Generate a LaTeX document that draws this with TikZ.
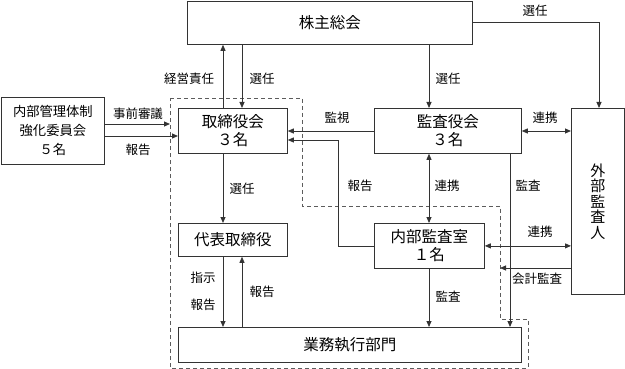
\documentclass[tikz,border=0pt]{standalone}
\usepackage{fontspec}
\setmainfont{Noto Sans CJK JP}
\usetikzlibrary{arrows.meta}
\definecolor{ln}{HTML}{333333}
\tikzset{
  box/.style={draw=ln, line width=0.8pt, inner sep=0pt, anchor=north west, align=center, font=\fontsize{15.5}{18}\selectfont},
  lab/.style={font=\fontsize{12.5}{14}\selectfont, inner sep=0pt},
  arr/.style={draw=ln, line width=0.8pt, -{Triangle[length=6pt,width=5pt]}},
  darr/.style={draw=ln, line width=0.8pt, {Triangle[length=6pt,width=5pt]}-{Triangle[length=6pt,width=5pt]}},
  dash box/.style={draw=ln!80, line width=0.8pt, dash pattern=on 4pt off 3pt}
}
\begin{document}
\begin{tikzpicture}[x=1pt,y=-1pt]
\useasboundingbox (0,0) rectangle (625,369);
% dashed outline
\draw[dash box] (170,98) -- (302,98) -- (302,206) -- (500,206) -- (500,319) -- (528,319) -- (528,368) -- (170,368) -- cycle;
% boxes
\node[box, minimum width=285pt, minimum height=43pt] (kab) at (187,1) {株主総会};
\node[box, minimum width=103pt, minimum height=67pt, font=\fontsize{13.3}{19}\selectfont] (iin) at (1,97) {内部管理体制\\強化委員会\\５名};
\node[box, minimum width=109pt, minimum height=45pt] (tor) at (178,108) {取締役会\\３名};
\node[box, minimum width=147pt, minimum height=45pt] (kan) at (374,108) {監査役会\\３名};
\node[box, minimum width=53pt, minimum height=186pt, font=\fontsize{15}{15.5}\selectfont] (gai) at (571,108) {外\\部\\監\\査\\人};
\node[box, minimum width=109pt, minimum height=33pt] (dai) at (178,223) {代表取締役};
\node[box, minimum width=110pt, minimum height=45pt] (nai) at (374,223) {内部監査室\\１名};
\node[box, minimum width=343pt, minimum height=35pt] (gyo) at (178,327) {業務執行部門};
% helper coordinates
\coordinate (xA) at (223,0);
\coordinate (xB) at (242,0);
\coordinate (xC) at (429,0);
\coordinate (xD) at (599,0);
\coordinate (xE) at (510,0);
\coordinate (xF) at (338,0);
\coordinate (y22) at (0,22);
\coordinate (y124) at (0,124);
\coordinate (y136) at (0,136);
\coordinate (y131) at (0,131);
\coordinate (y140) at (0,140);
\coordinate (y268) at (0,268);
\coordinate (dl) at (170,124);
\coordinate (dr) at (500,268);
% connectors
\draw[arr] (tor.north -| xA) -- (kab.south -| xA);
\node[lab] (l1) at (189,79) {経営責任};
\draw[arr] (kab.south -| xB) -- (tor.north -| xB);
\node[lab] (l2) at (262,79) {選任};
\draw[arr] (kab.south -| xC) -- (kan.north -| xC);
\node[lab] (l3) at (448,79) {選任};
\draw[arr] (kab.east |- y22) -| (gai.north -| xD);
\node[lab] (l4) at (535,11) {選任};
\draw[arr] (iin.east |- y124) -- (dl);
\node[lab] (l5) at (138,114) {事前審議};
\draw[arr] (iin.east |- y136) -- (tor.west |- y136);
\node[lab] (l6) at (138,150) {報告};
\draw[arr] (kan.west |- y131) -- (tor.east |- y131);
\node[lab] (l7) at (337,118) {監視};
\draw[arr] (nai.west) -| (xF |- y140) -- (tor.east |- y140);
\node[lab] (l8) at (360,186) {報告};
\draw[darr] (kan.south -| xC) -- (nai.north -| xC);
\node[lab] (l9) at (447,186) {連携};
\draw[darr] (kan.east |- y131) -- (gai.west |- y131);
\node[lab] (l10) at (545,118) {連携};
\draw[arr] (kan.south -| xE) -- (gyo.north -| xE);
\node[lab] (l11) at (528,186) {監査};
\draw[darr] (nai.east) -- (gai.west |- nai.east);
\node[lab] (l12) at (540,232) {連携};
\draw[arr] (gai.west |- y268) -- (dr);
\node[lab] (l13) at (537,279) {会計監査};
\draw[arr] (nai.south -| xC) -- (gyo.north -| xC);
\node[lab] (l14) at (448,297) {監査};
\draw[arr] (tor.south -| xA) -- (dai.north -| xA);
\node[lab] (l15) at (242,189) {選任};
\draw[arr] (dai.south -| xA) -- (gyo.north -| xA);
\node[lab] (l16) at (203,278) {指示};
\node[lab] (l17) at (203,305) {報告};
\draw[arr] (gyo.north -| xB) -- (dai.south -| xB);
\node[lab] (l18) at (262,292) {報告};
\end{tikzpicture}
\end{document}
